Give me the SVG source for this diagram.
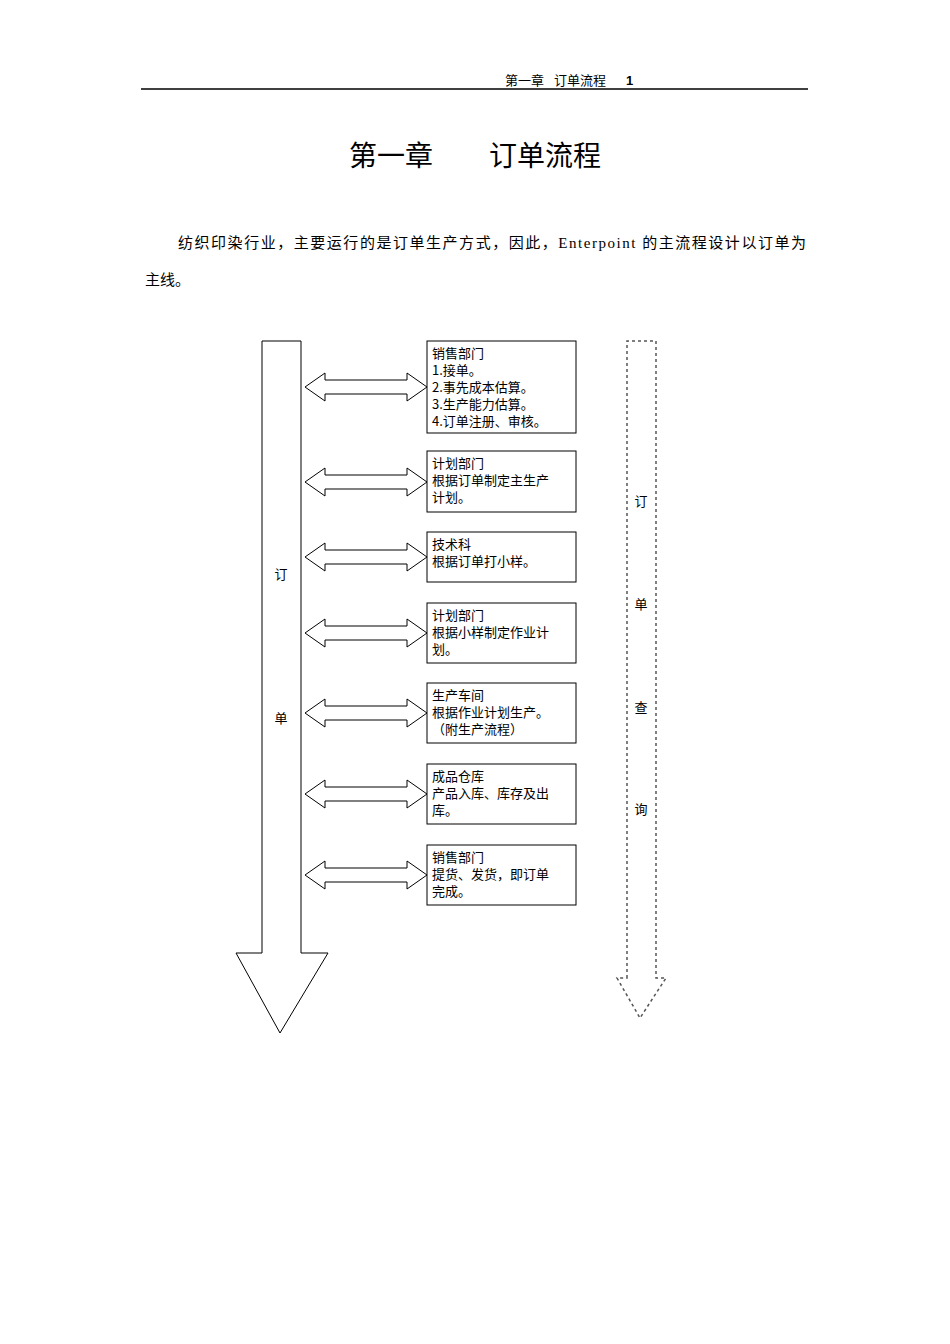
<svg xmlns="http://www.w3.org/2000/svg" width="950" height="1344" viewBox="0 0 950 1344">
<defs><style>
text{font-family:"Liberation Serif","Noto Sans CJK SC",serif;fill:#000}
.b{fill:#fff;stroke:#000;stroke-width:1}
.t{font-family:"Noto Sans CJK SC",sans-serif;font-size:13px}
.d{fill:#fff;stroke:#555;stroke-width:1.5;stroke-dasharray:3,3}
</style>
<path id="da" d="M305,0 l20,-14 v7 h82 v-7 l20,14 l-20,14 v-7 h-82 v7 z" class="b"/>
</defs>
<rect width="950" height="1344" fill="#fff"/>
<text x="505" y="85" font-size="13">第一章</text>
<text x="554" y="85" font-size="13">订单流程</text>
<text x="626" y="85" style="font-family:'Liberation Sans',sans-serif;font-size:13px;font-weight:bold">1</text>
<line x1="141" y1="89" x2="808" y2="89" stroke="#000" stroke-width="1.5"/>
<text x="475" y="166" font-size="28" text-anchor="middle">第一章　　订单流程</text>
<text x="178" y="248" font-size="15" textLength="628" lengthAdjust="spacing">纺织印染行业，主要运行的是订单生产方式，因此，Enterpoint 的主流程设计以订单为</text>
<text x="145" y="285" font-size="15">主线。</text>
<g id="main"><path class="b" d="M262,341 H301 V953 H328 L280,1033 L236,953 H262 Z"/>
<text class="t" x="281" y="579" text-anchor="middle" font-size="15">订</text>
<text class="t" x="281" y="723" text-anchor="middle" font-size="15">单</text></g>
<g id="query"><path class="d" d="M627,978 V341 H656 V978 H666 L640,1018 L617,978 Z"/>
<text class="t" x="641" y="506" text-anchor="middle">订</text>
<text class="t" x="641" y="609" text-anchor="middle">单</text>
<text class="t" x="641" y="712" text-anchor="middle">查</text>
<text class="t" x="641" y="814" text-anchor="middle">询</text></g>
<g id="connectors">
<use href="#da" y="387"/><use href="#da" y="482"/><use href="#da" y="557"/><use href="#da" y="633"/><use href="#da" y="713"/><use href="#da" y="794"/><use href="#da" y="875"/>
</g>
<g id="n1"><rect class="b" x="427" y="341" width="149" height="92"/><text class="t" x="432" y="358">销售部门<tspan x="432" dy="17">1.接单。</tspan><tspan x="432" dy="17">2.事先成本估算。</tspan><tspan x="432" dy="17">3.生产能力估算。</tspan><tspan x="432" dy="17">4.订单注册、审核。</tspan></text></g>
<g id="n2"><rect class="b" x="427" y="451" width="149" height="61"/><text class="t" x="432" y="468">计划部门<tspan x="432" dy="17">根据订单制定主生产</tspan><tspan x="432" dy="17">计划。</tspan></text></g>
<g id="n3"><rect class="b" x="427" y="532" width="149" height="50"/><text class="t" x="432" y="549">技术科<tspan x="432" dy="17">根据订单打小样。</tspan></text></g>
<g id="n4"><rect class="b" x="427" y="603" width="149" height="60"/><text class="t" x="432" y="620">计划部门<tspan x="432" dy="17">根据小样制定作业计</tspan><tspan x="432" dy="17">划。</tspan></text></g>
<g id="n5"><rect class="b" x="427" y="683" width="149" height="60"/><text class="t" x="432" y="700">生产车间<tspan x="432" dy="17">根据作业计划生产。</tspan><tspan x="432" dy="17">（附生产流程）</tspan></text></g>
<g id="n6"><rect class="b" x="427" y="764" width="149" height="60"/><text class="t" x="432" y="781">成品仓库<tspan x="432" dy="17">产品入库、库存及出</tspan><tspan x="432" dy="17">库。</tspan></text></g>
<g id="n7"><rect class="b" x="427" y="845" width="149" height="60"/><text class="t" x="432" y="862">销售部门<tspan x="432" dy="17">提货、发货，即订单</tspan><tspan x="432" dy="17">完成。</tspan></text></g>
</svg>
